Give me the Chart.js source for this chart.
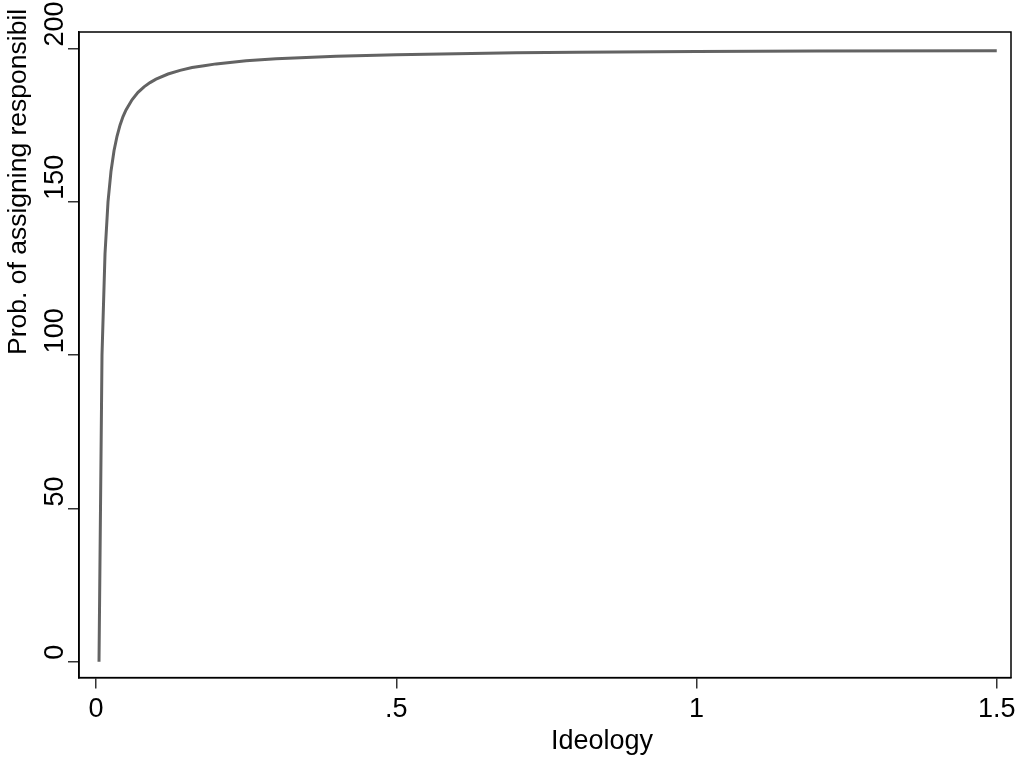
<!DOCTYPE html>
<html>
<head>
<meta charset="utf-8">
<script src="https://cdn.jsdelivr.net/npm/chart.js@4"></script>
<style>
  html, body { margin: 0; padding: 0; background: #fff; }
  #wrap { width: 1033px; height: 764px; }
</style>
</head>
<body>
<div id="wrap"><canvas id="chart"></canvas></div>
<script>
const ctx = document.getElementById("chart");

// curve
const ideology = [0.005, 0.01, 0.015, 0.02, 0.025, 0.03, 0.035, 0.04, 0.045, 0.05,
  0.06, 0.07, 0.08, 0.09, 0.1, 0.12, 0.14, 0.16, 0.18, 0.2, 0.25, 0.3, 0.35, 0.4,
  0.5, 0.6, 0.7, 0.8, 1.0, 1.2, 1.5];
const prob = [0, 100, 133, 150, 160, 166.7, 171.4, 175, 177.8, 180,
  183.3, 185.7, 187.5, 188.9, 190, 191.7, 192.9, 193.8, 194.4, 195, 196, 196.7, 197.1, 197.5,
  198, 198.3, 198.6, 198.8, 199, 199.2, 199.3];

const xTicks = [0, 0.5, 1, 1.5];
const xTickLabels = ["0", ".5", "1", "1.5"];
const yTicks = [0, 50, 100, 150, 200];
const yTickLabels = ["0", "50", "100", "150", "200"];

const xTitle = "Ideology";
const yTitle = "Prob. of assigning responsibil";

const FONT = "Liberation Sans, Arial, sans-serif";

const points = ideology.map((x, i) => ({ x: x, y: prob[i] }));

// stata-ish frame, rotated y labels and titles
const stataBits = {
  id: "stataBits",
  afterDraw(chart) {
    const c = chart.ctx;
    const area = chart.chartArea;
    const ys = chart.scales.y;

    c.save();
    c.strokeStyle = "#000";
    c.lineWidth = 1.5;
    c.strokeRect(area.left, area.top, area.right - area.left, area.bottom - area.top);

    c.fillStyle = "#000";
    c.font = "27px " + FONT;
    c.textBaseline = "alphabetic";
    c.textAlign = "left";
    yTicks.forEach((v, i) => {
      const py = ys.getPixelForValue(v);
      c.save();
      c.translate(63, py - 2);
      c.rotate(-Math.PI / 2);
      c.fillText(yTickLabels[i], 0, 0);
      c.restore();
    });

    // y title, clipped like the original
    c.font = "26.5px " + FONT;
    c.save();
    c.translate(26, 355);
    c.rotate(-Math.PI / 2);
    c.fillText(yTitle, 0, 0);
    c.restore();

    // x title
    c.font = "27px " + FONT;
    c.textAlign = "center";
    c.fillText(xTitle, 602, 749);
    c.restore();
  },
};

new Chart(ctx, {
  type: "line",
  data: {
    datasets: [
      {
        data: points,
        borderColor: "#636363",
        borderWidth: 3,
        pointRadius: 0,
        tension: 0,
        fill: false,
      },
    ],
  },
  options: {
    responsive: true,
    maintainAspectRatio: false,
    animation: false,
    events: [],
    layout: { padding: { left: 68, right: 22, top: 32, bottom: 33 } },
    plugins: {
      legend: { display: false },
      tooltip: { enabled: false },
    },
    scales: {
      x: {
        type: "linear",
        min: -0.0283,
        max: 1.5237,
        afterBuildTicks: (scale) => {
          scale.ticks = xTicks.map((v) => ({ value: v }));
        },
        grid: { drawOnChartArea: false, drawTicks: true, tickLength: 11, color: "#333", lineWidth: 1.5 },
        border: { display: true, color: "#000", width: 1.5 },
        ticks: {
          color: "#000",
          font: { family: FONT, size: 27 },
          padding: 5,
          maxRotation: 0,
          autoSkip: false,
          callback: (value, index) => xTickLabels[index],
        },
      },
      y: {
        type: "linear",
        min: -5.15,
        max: 205.4,
        afterBuildTicks: (scale) => {
          scale.ticks = yTicks.map((v) => ({ value: v }));
        },
        grid: { drawOnChartArea: false, drawTicks: true, tickLength: 11, color: "#333", lineWidth: 1.5 },
        border: { display: true, color: "#000", width: 1.5 },
        ticks: { display: false },
      },
    },
  },
  plugins: [stataBits],
});
</script>
</body>
</html>
